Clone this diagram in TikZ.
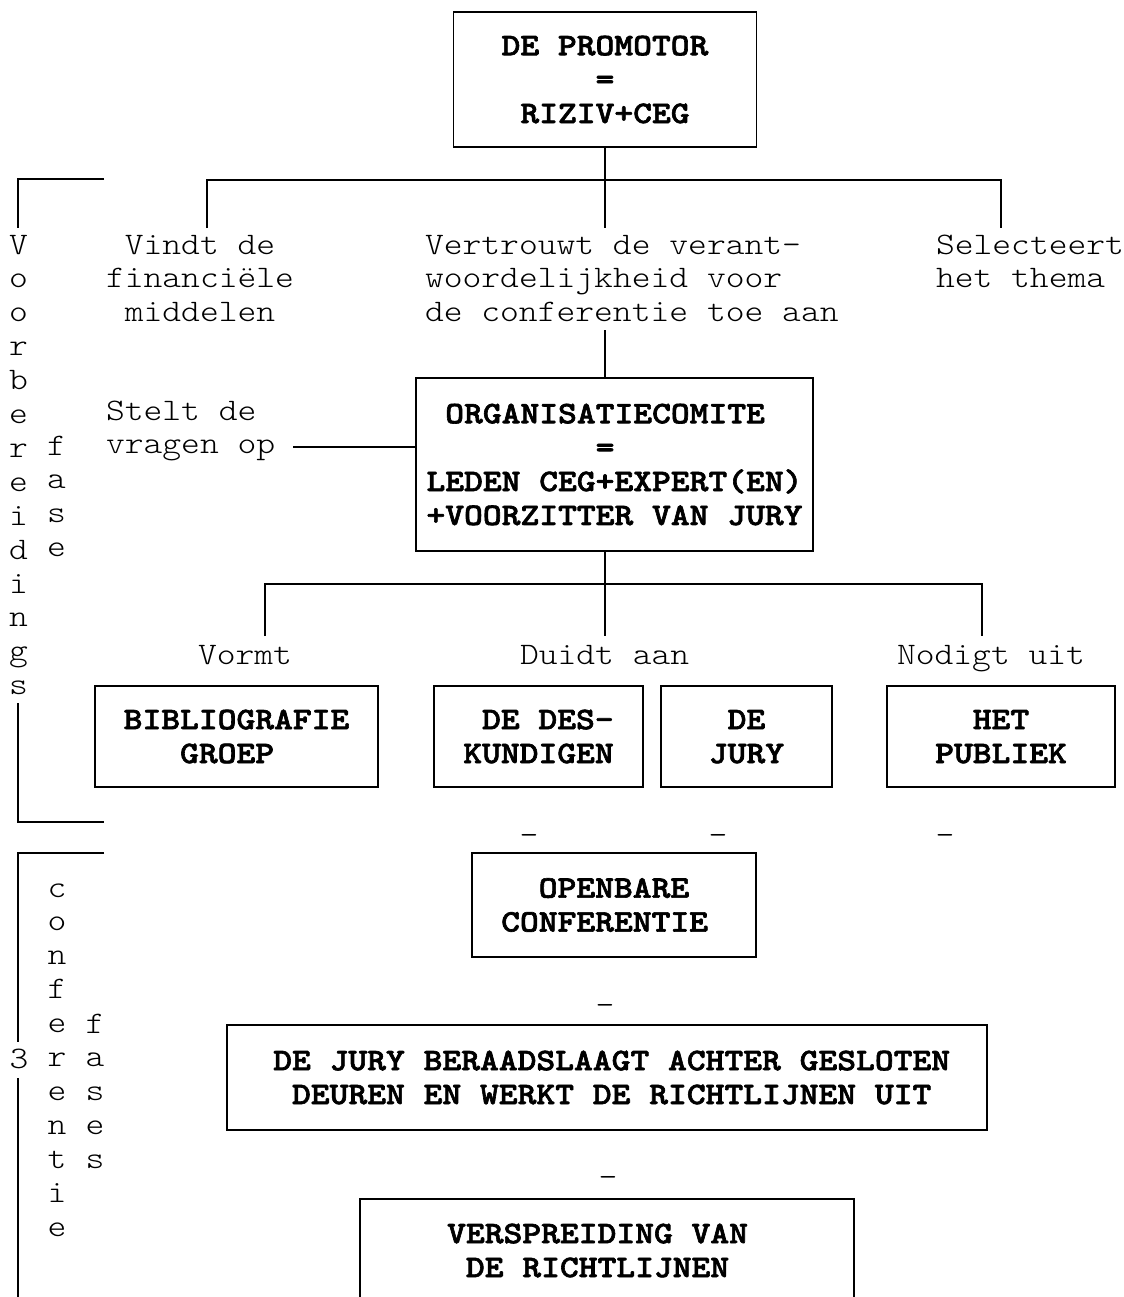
\documentclass[tikz,border=0pt]{standalone}
\usepackage{fontspec}
\setmainfont{lmmonolt10-regular.otf}[BoldFont=lmmonolt10-bold.otf, BoldFeatures={FakeBold=2}, FakeStretch=1.143]
\newdimen\cw
\cw=14.1pt
\newdimen\capht
\capht=14.4pt
\newcommand\sk[1]{\hspace*{#1\cw}}
\newcommand\rows[3]{\begin{tabular}[#1]{@{}#2@{}}#3\end{tabular}}
\newcommand\blk[2]{\raisebox{0pt}[\capht][#1\baselineskip]{\begin{tabular}[t]{@{}l@{}}#2\end{tabular}}}
\tikzset{
  txt/.style={font=\fontsize{23.5pt}{25.43pt}\selectfont, inner sep=0pt, outer sep=0pt},
  lbl/.style={txt, anchor=base west},
  col/.style={txt, anchor=base},
  bx/.style 2 args={txt, draw, line width=1.4pt, font=\fontsize{23.5pt}{25.43pt}\selectfont\bfseries,
     minimum width=#1*0.75pt, minimum height=#2*0.75pt},
  ln/.style={line width=1.4pt},
}
\begin{document}
\begin{tikzpicture}[x=0.75pt,y=-0.75pt]
\path[use as bounding box, fill=white] (0,0) rectangle (1124,1297);
\clip (0,0) rectangle (1124,1297);
% boxes
\node[bx={303}{135}] (promo) at (605,79.5) {\blk{2}{DE PROMOTOR\\\sk5=\\\sk1RIZIV+CEG}};
\node[bx={397}{173}] (org) at (614.5,464.5) {\blk{3}{\sk1ORGANISATIECOMITE\\\sk9=\\LEDEN CEG+EXPERT(EN)\\+VOORZITTER VAN JURY}};
\node[bx={283}{101}] (bib) at (236.5,736.5) {\blk{1}{BIBLIOGRAFIE\\\sk3GROEP}};
\node[bx={209}{101}] (des) at (538.5,736.5) {\blk{1}{\sk1DE DES-\\KUNDIGEN}};
\node[bx={171}{101}] (jury) at (746.5,736.5) {\blk{1}{\sk1DE\\JURY}};
\node[bx={228}{101}] (pub) at (1001,736.5) {\blk{1}{\sk2HET\\PUBLIEK}};
\node[bx={284}{104}] (open) at (614,905) {\blk{1}{\sk2OPENBARE\\CONFERENTIE\sk1}};
\node[bx={760}{105}] (delib) at (607,1077.5) {\blk{1}{\sk{0.5}DE JURY BERAADSLAAGT ACHTER GESLOTEN\\\sk{1.5}DEUREN EN WERKT DE RICHTLIJNEN UIT}};
\node[bx={494}{103}] (versp) at (607,1250.5) {\blk{1}{VERSPREIDING VAN\sk1\\\sk1DE RICHTLIJNEN}};
% labels
\node[lbl] (vindt) at (106,254) {\rows{t}{l}{\sk1Vindt de\\financiële\\\sk1middelen}};
\node[lbl] (vertr) at (425,254) {\rows{t}{l}{Vertrouwt de verant-\\woordelijkheid voor\\de conferentie toe aan}};
\node[lbl] (selec) at (936,254) {\rows{t}{l}{Selecteert\\het thema}};
\node[lbl] (stelt) at (106,420) {\rows{t}{l}{Stelt de\\vragen op}};
\node[lbl] (vormt) at (198,664) {Vormt};
\node[lbl] (duidt) at (520,664) {Duidt aan};
\node[lbl] (nodig) at (897,664) {Nodigt uit};
% vertical phase texts
\node[col] (voorb) at (18.5,254) {\rows{t}{c}{V\\o\\o\\r\\b\\e\\r\\e\\i\\d\\i\\n\\g\\s}};
\node[col] (fase1) at (56.5,455) {\rows{t}{c}{f\\a\\s\\e}};
\node[col] (conf) at (57,897) {\rows{t}{c}{c\\o\\n\\f\\e\\r\\e\\n\\t\\i\\e}};
\node[col] (fase3) at (95,1033) {\rows{t}{c}{f\\a\\s\\e\\s}};
\node[col] (drie) at (19,1068) {3};
% underscores
\node[col] (u1) at (529,830) {\_};
\node[col] (u2) at (718,830) {\_};
\node[col] (u3) at (945,830) {\_};
\node[col] (u4) at (605,1000) {\_};
\node[col] (u5) at (608,1172) {\_};
% tree 1
\coordinate (t1) at (605,180);
\coordinate (t1l) at (207,180);
\coordinate (t1r) at (1001,180);
\coordinate (v1) at (207,228);
\coordinate (v2) at (605,228);
\coordinate (v3) at (1001,228);
\coordinate (v4) at (605,330);
\draw[ln] (promo.south -| t1) -- (t1);
\draw[ln] (v1) -- (t1l) -- (t1r) -- (v3);
\draw[ln] (t1) -- (v2);
\draw[ln] (v4) -- (v4 |- org.north);
% stelt
\coordinate (s1) at (293,447);
\draw[ln] (s1) -- (s1 -| org.west);
% tree 2
\coordinate (t2) at (605,584);
\coordinate (t2l) at (265,584);
\coordinate (t2r) at (982,584);
\coordinate (w1) at (265,636);
\coordinate (w2) at (605,636);
\coordinate (w3) at (982,636);
\draw[ln] (org.south -| t2) -- (t2);
\draw[ln] (w1) -- (t2l) -- (t2r) -- (w3);
\draw[ln] (t2) -- (w2);
% brackets
\coordinate (b1) at (104,179);
\coordinate (b1c) at (18,179);
\coordinate (b1e) at (18,228);
\coordinate (b1f) at (18,703);
\coordinate (b1g) at (18,822);
\coordinate (b1h) at (104,822);
\draw[ln] (b1) -- (b1c) -- (b1e);
\draw[ln] (b1f) -- (b1g) -- (b1h);
\coordinate (c1) at (104,853);
\coordinate (c1c) at (18,853);
\coordinate (c1e) at (18,1042);
\coordinate (c1f) at (18,1078);
\coordinate (c1g) at (18,1310);
\draw[ln] (c1) -- (c1c) -- (c1e);
\draw[ln] (c1f) -- (c1g);
\end{tikzpicture}
\end{document}
